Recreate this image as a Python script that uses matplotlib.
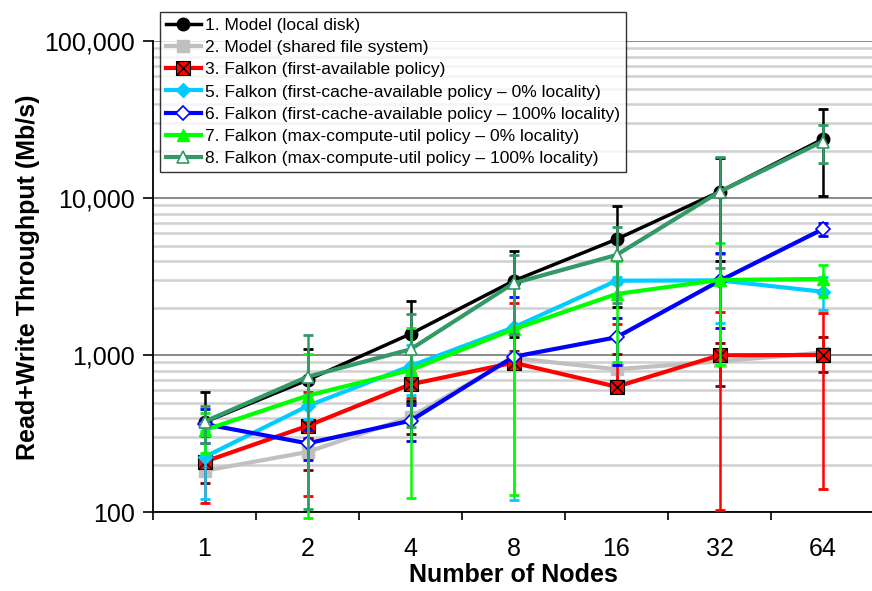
import numpy as np
import matplotlib
matplotlib.use("Agg")
import matplotlib.pyplot as plt
from matplotlib.ticker import FixedLocator, FuncFormatter, NullFormatter
from matplotlib.lines import Line2D
from matplotlib.legend_handler import HandlerTuple

plt.rcParams['font.family'] = ['Liberation Sans', 'DejaVu Sans']

nodes = ['1', '2', '4', '8', '16', '32', '64']

local_disk = [375, 696, 1368, 2976, 5485, 11010, 23760]
local_disk_err = [205, 401, 860, 1660, 3450, 7030, 13450]

shared_fs = [184, 242, 405, 960, 815, 915, 1041]
shared_fs_err = [30, 56, 89, 104, 198, 274, 263]

first_avail = [210, 355, 653, 897, 631, 1000, 1005]
first_avail_err = [95, 228, 120, 1266, 954, 897, 865]

cache_0 = [225, 475, 855, 1505, 2987, 3000, 2542]
cache_0_err = [104, 80, 300, 1386, 150, 1387, 600]

cache_100 = [365, 275, 383, 979, 1302, 2980, 6350]
cache_100_err = [90, 60, 100, 1361, 435, 1480, 600]

maxc_0 = [334, 553, 806, 1465, 2457, 3020, 3062]
maxc_0_err = [97, 461, 683, 1336, 1547, 2150, 715]

maxc_100 = [378, 730, 1092, 2875, 4355, 11000, 23000]
maxc_100_err = [100, 625, 741, 1500, 2200, 7400, 6300]

labels = [
    '1. Model (local disk)',
    '2. Model (shared file system)',
    '3. Falkon (first-available policy)',
    '5. Falkon (first-cache-available policy \u2013 0% locality)',
    '6. Falkon (first-cache-available policy \u2013 100% locality)',
    '7. Falkon (max-compute-util policy \u2013 0% locality)',
    '8. Falkon (max-compute-util policy \u2013 100% locality)',
]

W, H = 872, 591
fig = plt.figure(figsize=(W / 100, H / 100), dpi=100)
ax = fig.add_axes([153 / W, (H - 512.3) / H, (874 - 153) / W, (512.3 - 41.3) / H])
ax.set_yscale('log')
ax.set_ylim(100, 100000)
ax.set_xlim(-0.5, len(nodes) - 0.5)

x = np.arange(len(nodes))

series = [
    (local_disk, local_disk_err, dict(color='black', marker='o', ms=9, mfc='black', mec='black', lw=2.5), 'black'),
    (shared_fs, shared_fs_err, dict(color='#C0C0C0', marker='s', ms=9, mfc='#C0C0C0', mec='#C0C0C0', lw=3), '#800000'),
    (first_avail, first_avail_err, dict(color='#FF0000', marker='s', ms=10.5, mfc='#FF0000', mec='black', mew=0.8, lw=3), '#FF0000'),
    (cache_0, cache_0_err, dict(color='#00CCFF', marker='D', ms=7.5, mfc='#00CCFF', mec='#00CCFF', lw=3), '#00CCFF'),
    (cache_100, cache_100_err, dict(color='#0000FF', marker='D', ms=7.5, mfc='white', mec='#0000FF', mew=1.2, lw=3), '#0000FF'),
    (maxc_0, maxc_0_err, dict(color='#00FF00', marker='^', ms=9, mfc='#00FF00', mec='#00FF00', lw=3), '#00FF00'),
    (maxc_100, maxc_100_err, dict(color='#339966', marker='^', ms=9, mfc='white', mec='#339966', mew=1.2, lw=3), '#339966'),
]

handles = []
for i, (vals, errs, style, ecol) in enumerate(series):
    z = 3 + i
    v = np.array(vals, float)
    e = np.array(errs, float)
    hi = v + e
    lo = v - e
    ax.vlines(x, v, hi, colors=ecol, lw=1.8, zorder=z, clip_on=False)
    ax.plot(x, hi, ls='none', marker='_', ms=7, mew=2, color=ecol, zorder=z, clip_on=False)
    ok = lo > 0
    ax.vlines(x[ok], lo[ok], v[ok], colors=ecol, lw=1.8, zorder=z, clip_on=False)
    ax.plot(x[ok], lo[ok], ls='none', marker='_', ms=7, mew=2, color=ecol, zorder=z, clip_on=False)
    ln, = ax.plot(x, v, zorder=z + 0.5, clip_on=False, **style)
    if i == 2:
        ax.plot(x, v, ls='none', marker='x', ms=10, mew=1.0, color='black', zorder=z + 0.6, clip_on=False)
        h = (ln, Line2D([], [], ls='none', marker='x', ms=10, mew=1.0, color='black'))
        handles.append(h)
    else:
        handles.append(ln)

ax.yaxis.set_minor_locator(FixedLocator([m * 10 ** k for k in range(2, 5) for m in range(2, 10)]))
ax.yaxis.set_minor_formatter(NullFormatter())
ax.yaxis.set_major_locator(FixedLocator([100, 1000, 10000, 100000]))
ax.yaxis.set_major_formatter(FuncFormatter(lambda v, p: f'{int(v):,}'))
ax.grid(True, which='major', axis='y', color='#808080', lw=1.3, zorder=0)
ax.grid(True, which='minor', axis='y', color='#D0D0D0', lw=1.8, zorder=0)
ax.set_axisbelow(True)

ax.set_xticks(x)
ax.set_xticklabels(nodes)
ax.set_xticks(np.arange(-0.5, len(nodes) + 0.5, 1), minor=True)
ax.tick_params(axis='x', which='major', length=0, labelsize=18, pad=18)
ax.tick_params(axis='x', which='minor', length=6, width=1.2, direction='out')
ax.tick_params(axis='y', which='major', length=7, width=1.2, direction='out', labelsize=18, pad=6)
ax.tick_params(axis='y', which='minor', length=0)

for s in ['top', 'right']:
    ax.spines[s].set_visible(False)
for s in ['left', 'bottom']:
    ax.spines[s].set_linewidth(1.3)

ax.set_xlabel('Number of Nodes', fontsize=18, fontweight='bold', labelpad=1)
ax.set_ylabel('Read+Write Throughput (Mb/s)', fontsize=18, fontweight='bold', labelpad=3)

leg = fig.legend(handles, labels, loc='upper left', bbox_to_anchor=(160 / W, 1 - 12 / H),
                 bbox_transform=fig.transFigure, fontsize=12.5, frameon=True, fancybox=False,
                 handlelength=2.0, handletextpad=0.25, borderpad=0.35, labelspacing=0.4,
                 borderaxespad=0, handler_map={tuple: HandlerTuple(ndivide=1)})
leg.get_frame().set_edgecolor('black')
leg.get_frame().set_linewidth(1.0)
leg.set_zorder(20)

fig.savefig('out.png', dpi=100)
